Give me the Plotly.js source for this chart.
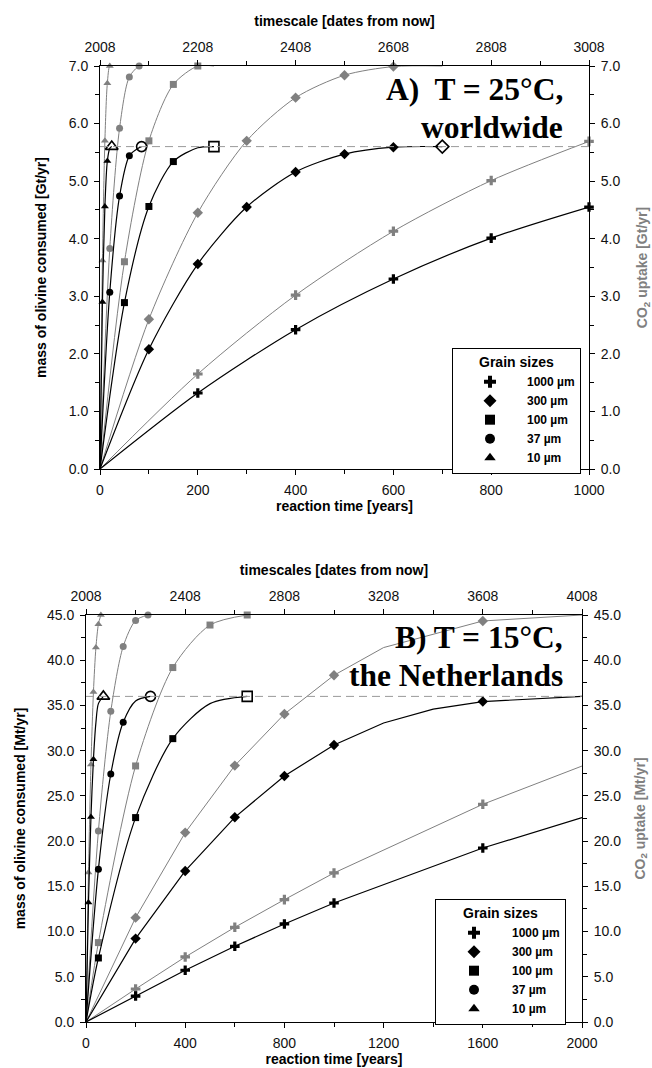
<!DOCTYPE html>
<html>
<head>
<meta charset="utf-8">
<script src="https://cdn.plot.ly/plotly-3.0.1.min.js"></script>
<style>html,body{margin:0;padding:0;background:#fff}#chart{width:652px;height:1068px}</style>
</head>
<body>
<div id="chart"></div>
<script>
// ---------- DATA ----------
const grainLabels = ['1000 µm', '300 µm', '100 µm', '37 µm', '10 µm'];
const grainSymbols = ['cross', 'diamond', 'square', 'circle', 'triangle-up'];

// Panel A: T = 25°C, worldwide  (years, Gt/yr)
const A_t_1000 = [0, 200, 400, 600, 800, 1000];
const A_mass_1000 = [0, 1.32, 2.42, 3.30, 4.01, 4.55];
const A_co2_1000 = [0, 1.65, 3.02, 4.13, 5.01, 5.69];
const A_t_300 = [0, 100, 200, 300, 400, 500, 600, 700];
const A_mass_300 = [0, 2.08, 3.56, 4.55, 5.16, 5.47, 5.59, 5.60];
const A_co2_300 = [0, 2.60, 4.45, 5.70, 6.45, 6.84, 6.99, 7.00];
const A_t_100 = [0, 50, 100, 150, 200, 233];
const A_mass_100 = [0, 2.89, 4.56, 5.34, 5.58, 5.60];
const A_co2_100 = [0, 3.60, 5.70, 6.68, 7.00, 7.00];
const A_t_37 = [0, 20, 40, 60, 80, 85];
const A_mass_37 = [0, 3.07, 4.74, 5.44, 5.58, 5.60];
const A_co2_37 = [0, 3.83, 5.92, 6.81, 7.00, 7.00];
const A_t_10 = [0, 5, 10, 15, 20, 24];
const A_mass_10 = [0, 2.90, 4.56, 5.35, 5.57, 5.60];
const A_co2_10 = [0, 3.62, 5.70, 6.70, 7.00, 7.00];
// marked (symbol) times; mass series end with an open symbol
const A_massMarks = [[200, 400, 600, 800, 1000], [100, 200, 300, 400, 500, 600], [50, 100, 150], [20, 40, 60], [5, 10, 15]];
const A_massEnds = [null, 700, 233, 85, 24];
const A_co2Marks = [[200, 400, 600, 800, 1000], [100, 200, 300, 400, 500, 600], [50, 100, 150, 200], [20, 40, 60, 80], [5, 10, 15, 20]];
const A_saturation = 5.6;
const A_yearTicks = [0, 200, 400, 600, 800, 1000];
const A_dateTicks = [2008, 2208, 2408, 2608, 2808, 3008];

// Panel B: T = 15°C, the Netherlands  (years, Mt/yr)
const B_t_1000 = [0, 200, 400, 600, 800, 1000, 1600, 2000];
const B_mass_1000 = [0, 2.87, 5.72, 8.37, 10.84, 13.16, 19.24, 22.6];
const B_co2_1000 = [0, 3.65, 7.19, 10.47, 13.53, 16.48, 24.07, 28.3];
const B_tmass_300 = [0, 200, 400, 600, 800, 1000, 1200, 1400, 1600, 2000];
const B_mass_300 = [0, 9.22, 16.7, 22.63, 27.2, 30.63, 33.06, 34.6, 35.43, 36.0];
const B_tco2_300 = [0, 200, 400, 600, 800, 1000, 1200, 1600, 2000];
const B_co2_300 = [0, 11.54, 20.94, 28.35, 34.05, 38.34, 41.4, 44.34, 45.0];
const B_t_100 = [0, 50, 200, 350, 500, 650];
const B_mass_100 = [0, 7.08, 22.6, 31.33, 35.2, 36.0];
const B_co2_100 = [0, 8.78, 28.31, 39.19, 43.89, 45.0];
const B_tmass_37 = [0, 50, 100, 150, 200, 260];
const B_mass_37 = [0, 16.88, 27.42, 33.14, 35.5, 36.0];
const B_tco2_37 = [0, 50, 100, 150, 200, 250];
const B_co2_37 = [0, 21.12, 34.35, 41.52, 44.4, 45.0];
const B_tmass_10 = [0, 10, 20, 30, 40, 50, 70];
const B_mass_10 = [0, 13.2, 22.67, 29.05, 33.1, 35.2, 36.0];
const B_tco2_10 = [0, 10, 20, 30, 40, 50, 60];
const B_co2_10 = [0, 16.52, 28.46, 36.49, 41.4, 43.98, 45.0];
const B_massMarks = [[200, 400, 600, 800, 1000, 1600], [200, 400, 600, 800, 1000, 1600], [50, 200, 350], [50, 100, 150], [10, 20, 30]];
const B_massEnds = [null, null, 650, 260, 70];
const B_co2Marks = [[200, 400, 600, 800, 1000, 1600], [200, 400, 600, 800, 1000, 1600], [50, 200, 350, 500, 650], [50, 100, 150, 200, 250], [10, 20, 30, 40, 50, 60]];
const B_saturation = 36;
const B_yearTicks = [0, 400, 800, 1200, 1600, 2000];
const B_dateTicks = [2008, 2408, 2808, 3208, 3608, 4008];

// ---------- STYLE ----------
const FONT = 'Liberation Sans, Arial, sans-serif';
const SERIF = 'Liberation Serif, Times New Roman, serif';
const GREY = '#808080';
const traces = [];

function addSeries(t, v, marks, endT, symbol, color, lw, xa, ya, shape) {
  traces.push({x: t, y: v, xaxis: xa, yaxis: ya, mode: 'lines', showlegend: false, hoverinfo: 'skip',
    line: {color: color, width: lw, shape: shape, smoothing: 0.8}});
  const mx = [], my = [];
  t.forEach((tt, i) => { if (marks.indexOf(tt) >= 0) { mx.push(tt); my.push(v[i]); } });
  const sz = (symbol === 'cross' || symbol === 'diamond') ? 8 : 7;
  traces.push({x: mx, y: my, xaxis: xa, yaxis: ya, mode: 'markers', showlegend: false, hoverinfo: 'skip', cliponaxis: false,
    marker: {symbol: symbol, size: sz, color: color, line: {width: 0}}});
  if (endT !== null) {
    const i = t.indexOf(endT);
    traces.push({x: [endT], y: [v[i]], xaxis: xa, yaxis: ya, mode: 'markers', showlegend: false, hoverinfo: 'skip', cliponaxis: false,
      marker: {symbol: symbol + '-open', size: symbol === 'triangle-up' ? 11 : 10, color: '#000', line: {width: 1.6, color: '#000'}}});
  }
}

// Panel A
const A_series = [
  [A_t_1000, A_mass_1000, A_t_1000, A_co2_1000],
  [A_t_300, A_mass_300, A_t_300, A_co2_300],
  [A_t_100, A_mass_100, A_t_100, A_co2_100],
  [A_t_37, A_mass_37, A_t_37, A_co2_37],
  [A_t_10, A_mass_10, A_t_10, A_co2_10]
];
A_series.forEach((s, k) => addSeries(s[2], s[3], A_co2Marks[k], null, grainSymbols[k], GREY, 1, 'x', 'y', 'spline'));
A_series.forEach((s, k) => addSeries(s[0], s[1], A_massMarks[k], A_massEnds[k], grainSymbols[k], '#000', 1.2, 'x', 'y', 'spline'));

// Panel B
const B_series = [
  [B_t_1000, B_mass_1000, B_t_1000, B_co2_1000, 'linear'],
  [B_tmass_300, B_mass_300, B_tco2_300, B_co2_300, 'linear'],
  [B_t_100, B_mass_100, B_t_100, B_co2_100, 'spline'],
  [B_tmass_37, B_mass_37, B_tco2_37, B_co2_37, 'spline'],
  [B_tmass_10, B_mass_10, B_tco2_10, B_co2_10, 'spline']
];
B_series.forEach((s, k) => addSeries(s[2], s[3], B_co2Marks[k], null, grainSymbols[k], GREY, 1, 'x3', 'y3', s[4]));
B_series.forEach((s, k) => addSeries(s[0], s[1], B_massMarks[k], B_massEnds[k], grainSymbols[k], '#000', 1.2, 'x3', 'y3', s[4]));

// dashed saturation lines
traces.push({x: [A_yearTicks[0], A_yearTicks[A_yearTicks.length - 1]], y: [A_saturation, A_saturation], xaxis: 'x', yaxis: 'y',
  mode: 'lines', showlegend: false, hoverinfo: 'skip', line: {color: '#9a9a9a', width: 1, dash: '8px,5px'}});
traces.push({x: [B_yearTicks[0], B_yearTicks[B_yearTicks.length - 1]], y: [B_saturation, B_saturation], xaxis: 'x3', yaxis: 'y3',
  mode: 'lines', showlegend: false, hoverinfo: 'skip', line: {color: '#9a9a9a', width: 1, dash: '8px,5px'}});

// dummy traces so top/right axes are drawn
traces.push({x: [A_dateTicks[0]], y: [0], xaxis: 'x2', yaxis: 'y2', mode: 'markers', marker: {opacity: 0}, showlegend: false, hoverinfo: 'skip'});
traces.push({x: [B_dateTicks[0]], y: [0], xaxis: 'x4', yaxis: 'y4', mode: 'markers', marker: {opacity: 0}, showlegend: false, hoverinfo: 'skip'});

// legend entries
['legend', 'legend2'].forEach((lg, j) => {
  grainLabels.forEach((lab, k) => {
    traces.push({x: [null], y: [null], xaxis: j ? 'x3' : 'x', yaxis: j ? 'y3' : 'y', mode: 'markers', name: lab,
      legend: lg, showlegend: true, marker: {symbol: grainSymbols[k], size: 10, color: '#000'}});
  });
});

const W = 652, H = 1068;
const tickFont = {family: FONT, size: 14, color: '#111'};
const titleFont = {family: FONT, size: 14, color: '#000', weight: 'bold'};
const greyTitleFont = {family: FONT, size: 14, color: GREY, weight: 'bold'};
function ax(extra) {
  return Object.assign({showline: true, linecolor: '#000', linewidth: 1, ticks: 'outside', ticklen: 5, tickwidth: 1, tickcolor: '#000',
    showgrid: false, zeroline: false, tickfont: tickFont, fixedrange: true}, extra);
}
function minor(d, t0) { return {tick0: t0 || 0, dtick: d, ticks: 'outside', ticklen: 4, tickcolor: '#000'}; }
const A_xdom = [100 / W, 589 / W], A_ydom = [1 - 469 / H, 1 - 66 / H];
const B_xdom = [86 / W, 582 / W], B_ydom = [1 - 1022 / H, 1 - 615 / H];

function legendCfg(x, y, iw) {
  return {x: x, y: y, xanchor: 'left', yanchor: 'top', bgcolor: '#fff', bordercolor: '#000', borderwidth: 1,
    font: {family: FONT, size: 12, color: '#000', weight: 'bold'}, itemwidth: iw, tracegroupgap: 0,
    title: {text: 'Grain sizes', side: 'top center', font: {family: FONT, size: 14, color: '#000', weight: 'bold'}}};
}

const layout = {
  width: W, height: H, margin: {l: 0, r: 0, t: 0, b: 0},
  paper_bgcolor: '#fff', plot_bgcolor: '#fff', font: {family: FONT},
  xaxis: ax({domain: A_xdom, anchor: 'y', range: [0, 1000], tickvals: A_yearTicks, minor: minor(100), ticklabelstandoff: 3,
    title: {text: 'reaction time [years]', font: titleFont, standoff: 1}}),
  xaxis2: ax({overlaying: 'x', side: 'top', anchor: 'y', range: [2008, 3008], tickvals: A_dateTicks, minor: minor(100, 2008), ticklabelstandoff: 2,
    title: {text: 'timescale [dates from now]', font: titleFont, standoff: 9}}),
  yaxis: ax({domain: A_ydom, anchor: 'x', range: [0, 7], dtick: 1, tickformat: '.1f', minor: minor(0.5), ticklabelstandoff: 3,
    title: {text: 'mass of olivine consumed [Gt/yr]', font: titleFont, standoff: 18}}),
  yaxis2: ax({overlaying: 'y', side: 'right', anchor: 'x', range: [0, 7], dtick: 1, tickformat: '.1f', minor: minor(0.5), ticklabelstandoff: 3,
    title: {text: 'CO<sub>2</sub> uptake [Gt/yr]', font: greyTitleFont, standoff: 18}}),

  xaxis3: ax({domain: B_xdom, anchor: 'y3', range: [0, 2000], tickvals: B_yearTicks, minor: minor(200), ticklabelstandoff: 3,
    title: {text: 'reaction time [years]', font: titleFont, standoff: 3}}),
  xaxis4: ax({overlaying: 'x3', side: 'top', anchor: 'y3', range: [2008, 4008], tickvals: B_dateTicks, minor: minor(200, 2008), ticklabelstandoff: 2,
    title: {text: 'timescales [dates from now]', font: titleFont, standoff: 9}}),
  yaxis3: ax({domain: B_ydom, anchor: 'x3', range: [0, 45], dtick: 5, tickformat: '.1f', minor: minor(2.5), ticklabelstandoff: 3,
    title: {text: 'mass of olivine consumed [Mt/yr]', font: titleFont, standoff: 18}}),
  yaxis4: ax({overlaying: 'y3', side: 'right', anchor: 'x3', range: [0, 45], dtick: 5, tickformat: '.1f', minor: minor(2.5), ticklabelstandoff: 3,
    title: {text: 'CO<sub>2</sub> uptake [Mt/yr]', font: greyTitleFont, standoff: 14}}),

  showlegend: true,
  legend: legendCfg(452 / W, 1 - 348 / H, 64),
  legend2: legendCfg(435 / W, 1 - 899 / H, 66),

  annotations: [
    {text: '<b>A)\u00a0 T = 25°C,</b>', y: 1 - 90 / H},
    {text: '<b>worldwide</b>', y: 1 - 127 / H},
    {text: '<b>B) T = 15°C,</b>', y: 1 - 637 / H},
    {text: '<b>the Netherlands</b>', y: 1 - 675 / H}
  ].map(a => Object.assign({xref: 'paper', yref: 'paper', x: 564 / W, xanchor: 'right', yanchor: 'middle', align: 'right',
    showarrow: false, borderpad: 0, font: {family: SERIF, size: 31.5, color: '#000'}}, a))
};

Plotly.newPlot('chart', traces, layout, {staticPlot: true, displayModeBar: false});
</script>
</body>
</html>
